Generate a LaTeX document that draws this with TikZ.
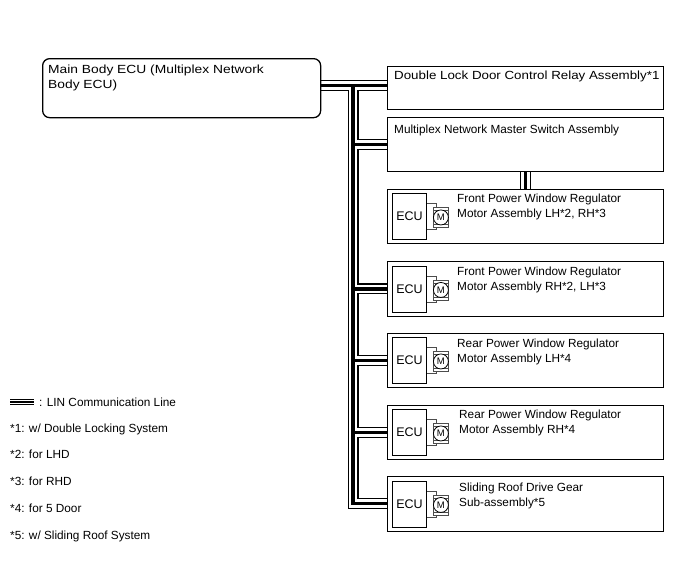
\documentclass[tikz,border=0pt]{standalone}
\usepackage{fontspec}
\setmainfont{Liberation Sans}
\usetikzlibrary{positioning,backgrounds}
\tikzset{
  unitbox/.style={draw, line width=0.9pt, anchor=north west, minimum width=276pt, inner sep=0pt},
  txt/.style={anchor=north west, align=left, inner sep=0pt, font=\fontsize{11.8}{15}\selectfont},
  ecubox/.style={draw, line width=0.9pt, anchor=west, minimum width=34pt, minimum height=46pt, inner sep=0pt, font=\fontsize{12.5}{15}\selectfont},
  motor/.style={draw, circle, fill=white, line width=0.8pt, minimum size=15pt, inner sep=0pt, font=\fontsize{9.5}{10}\selectfont},
  motorline/.style={draw=black!70, line width=0.6pt},
}
\begin{document}
\begin{tikzpicture}[x=1pt,y=-1pt]
  \useasboundingbox (0,0) rectangle (688,560);
  \node[unitbox, rounded corners=7pt, line width=1.3pt, minimum width=278pt, minimum height=59pt] (main) at (42,58) {};
  \node[unitbox, minimum height=43pt] (dlock) at (387,66) {};
  \node[unitbox, minimum height=54pt] (master) at (387,117) {};
  \node[unitbox, minimum height=54pt] (fpw1) at (387,189) {};
  \node[unitbox, minimum height=55pt] (fpw2) at (387,261) {};
  \node[unitbox, minimum height=54pt] (rpw1) at (387,333) {};
  \node[unitbox, minimum height=54pt] (rpw2) at (387,405) {};
  \node[unitbox, minimum height=55pt] (sroof) at (387,476) {};

  \node[txt] (mainT) at ([shift={(6pt,-5pt)}]main.north west)
    {\scalebox{1.17}[1]{\begin{tabular}{@{}l@{}}Main Body ECU (Multiplex Network\\Body ECU)\end{tabular}}};
  \node[txt] (dlockT) at ([shift={(7pt,-4.5pt)}]dlock.north west) {\scalebox{1.13}[1]{Double Lock Door Control Relay Assembly*1}};
  \node[txt] (masterT) at ([shift={(7pt,-7.5pt)}]master.north west) {Multiplex Network Master Switch Assembly};
  \node[txt] (fpw1T) at ([shift={(70pt,-4.5pt)}]fpw1.north west) {Front Power Window Regulator\\Motor Assembly LH*2, RH*3};
  \node[txt] (fpw2T) at ([shift={(70pt,-5.5pt)}]fpw2.north west) {Front Power Window Regulator\\Motor Assembly RH*2, LH*3};
  \node[txt] (rpw1T) at ([shift={(70pt,-5.5pt)}]rpw1.north west) {Rear Power Window Regulator\\Motor Assembly LH*4};
  \node[txt] (rpw2T) at ([shift={(72pt,-5pt)}]rpw2.north west) {Rear Power Window Regulator\\Motor Assembly RH*4};
  \node[txt] (sroofT) at ([shift={(72pt,-6.5pt)}]sroof.north west) {Sliding Roof Drive Gear\\Sub-assembly*5};

  % ECU and motor inside each regulator
  \foreach \u in {fpw1,fpw2,rpw1,rpw2,sroof}{
    \node[ecubox] (\u-ecu) at ([xshift=5pt]\u.west) {ECU};
    \coordinate (\u-mc) at ([shift={(14pt,-1pt)}]\u-ecu.east);
    \draw[motorline] ([shift={(-7.5pt,-10pt)}]\u-mc) rectangle ([shift={(7.5pt,10pt)}]\u-mc)
      ([shift={(-7.5pt,7pt)}]\u-mc) -- ([shift={(7.5pt,7pt)}]\u-mc)
      ([shift={(-7.5pt,-7pt)}]\u-mc) -- ([shift={(7.5pt,-7pt)}]\u-mc);
    \draw[motorline] ([yshift=13pt]\u-ecu.east) -| ([shift={(-5pt,10pt)}]\u-mc)
      ([yshift=-13pt]\u-ecu.east) -| ([shift={(-5pt,-10pt)}]\u-mc);
    \node[motor] (\u-m) at (\u-mc) {M};
  }

  % LIN lines
  \coordinate (jtop) at (353,85.5);
  \coordinate (jbot) at (353,503.5);
  \begin{scope}[on background layer]
    \foreach \w/\c in {11pt/black,8.6pt/white,3.6pt/black}
      \draw[line width=\w, draw=\c] (main.east |- jtop) -- (dlock.west |- jtop)
        (jtop) -- (jbot) -- (sroof.west |- jbot)
        (jtop |- master.west) -- (master.west)
        (jtop |- fpw2.west) -- (fpw2.west)
        (jtop |- rpw1.west) -- (rpw1.west)
        (jtop |- rpw2.west) -- (rpw2.west)
        (master.south) -- (fpw1.north);
  \end{scope}

  % legend
  \coordinate (legA) at (10,402);
  \coordinate (legB) at (34,402);
  \foreach \w/\c in {6pt/black,4pt/white,2pt/black}
    \draw[line width=\w, draw=\c] (legA) -- (legB);
  \node[txt, anchor=base west] (legT) at (39,406.2) {: LIN Communication Line};
  \node[txt, anchor=base west] (note1) at (10,432.2) {*1: w/ Double Locking System};
  \node[txt, anchor=base west] (note2) at (10,458.2) {*2: for LHD};
  \node[txt, anchor=base west] (note3) at (10,485.2) {*3: for RHD};
  \node[txt, anchor=base west] (note4) at (10,512.2) {*4: for 5 Door};
  \node[txt, anchor=base west] (note5) at (10,539.2) {*5: w/ Sliding Roof System};
\end{tikzpicture}
\end{document}
